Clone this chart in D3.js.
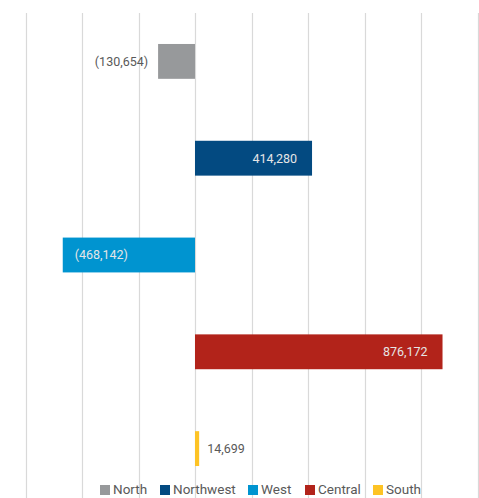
<!DOCTYPE html>
<html>
<head>
<meta charset="utf-8">
<script src="https://cdn.jsdelivr.net/npm/d3@7"></script>
<style>
  html, body { margin: 0; padding: 0; background: #fff; }
  svg { display: block; font-family: Roboto, "Noto Sans", sans-serif; }
</style>
</head>
<body>
<svg id="chart" width="479" height="498"></svg>
<script>
// Regional net change, by region
const regions = ["North", "Northwest", "West", "Central", "South"];
const values = [-130654, 414280, -468142, 876172, 14699];
const colors = ["#97999b", "#034a81", "#0094d0", "#b2231a", "#fdc325"];
const tickValues = [-600000, -400000, -200000, 0, 200000, 400000, 600000, 800000, 1000000];
// labels drawn inside the bar end (true) or just outside it (false)
const labelInside = [false, true, true, true, false];

const svg = d3.select("#chart");
const W = 479, H = 498;

const x = d3.scaleLinear().domain([-600000, 1000000]).range([25.5, 477.5]);
const y = d3.scaleBand().domain(regions).range([13, 497]).paddingInner(0.64).paddingOuter(0.32);

// vertical gridlines
svg.append("g")
  .selectAll("line")
  .data(tickValues)
  .join("line")
  .attr("x1", d => Math.round(x(d)) + 0.5)
  .attr("x2", d => Math.round(x(d)) + 0.5)
  .attr("y1", 13)
  .attr("y2", H)
  .attr("stroke", "#d9d9d9")
  .attr("stroke-width", 1.2);

const data = regions.map((r, i) => ({ region: r, value: values[i], color: colors[i], inside: labelInside[i] }));

// bars
svg.append("g")
  .selectAll("rect")
  .data(data)
  .join("rect")
  .attr("x", d => x(Math.min(0, d.value)))
  .attr("width", d => Math.abs(x(d.value) - x(0)))
  .attr("y", d => y(d.region))
  .attr("height", y.bandwidth())
  .attr("fill", d => d.color);

const fmt = v => v < 0 ? "(" + d3.format(",")(-v) + ")" : d3.format(",")(v);

// value labels
svg.append("g")
  .selectAll("text")
  .data(data)
  .join("text")
  .attr("x", d => {
    const end = x(d.value);
    if (d.inside) return d.value < 0 ? end + 12 : end - 15;
    return d.value < 0 ? end - 10 : end + 8;
  })
  .attr("y", d => y(d.region) + y.bandwidth() / 2)
  .attr("dy", "0.35em")
  .attr("text-anchor", d => (d.inside ? d.value >= 0 : d.value < 0) ? "end" : "start")
  .attr("font-size", 12.5)
  .attr("fill", d => d.inside ? "#e6e6e6" : "#595959")
  .text(d => fmt(d.value));

// legend
const legendX = [100, 160, 248, 305, 373];
const legend = svg.append("g")
  .selectAll("g")
  .data(data)
  .join("g")
  .attr("transform", (d, i) => `translate(${legendX[i]},0)`);
legend.append("rect")
  .attr("x", 0).attr("y", 485).attr("width", 10).attr("height", 10)
  .attr("fill", d => d.color);
legend.append("text")
  .attr("x", 13).attr("y", 494)
  .attr("font-size", 13.5)
  .attr("fill", "#595959")
  .text(d => d.region);
</script>
</body>
</html>
